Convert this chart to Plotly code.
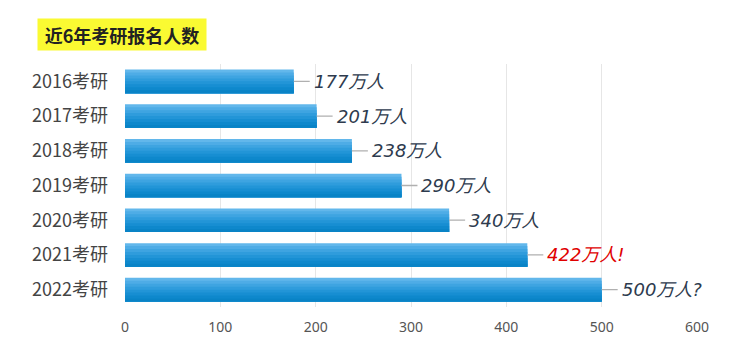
import plotly.graph_objects as go

categories = ["2016考研", "2017考研", "2018考研", "2019考研", "2020考研", "2021考研", "2022考研"]
values = [177, 201, 238, 290, 340, 422, 500]
labels = ["177万人", "201万人", "238万人", "290万人", "340万人", "422万人!", "500万人?"]
label_colors = ["#2e3b4e", "#2e3b4e", "#2e3b4e", "#2e3b4e", "#2e3b4e", "#e00000", "#2e3b4e"]
x_ticks = [0, 100, 200, 300, 400, 500, 600]
title_text = "近6年考研报名人数"

fig = go.Figure()

# gradient bars built from overlapping stripes (top light -> bottom dark)
stripe_colors = ["#62b7eb", "#4eace6", "#3ea4e1", "#2f9cdc", "#2295d7", "#178ed2", "#0e88cc", "#0983c6"]
bar_w = 0.68
n = len(stripe_colors)
sw = bar_w / n
for i, c in enumerate(stripe_colors):
    fig.add_trace(go.Bar(
        y=categories, x=values, orientation="h",
        marker=dict(color=c, line=dict(width=0)),
        width=bar_w - i * sw, offset=-bar_w / 2 + i * sw,
        hoverinfo="skip", showlegend=False,
    ))

for cat, v, lab, col in zip(categories, values, labels, label_colors):
    fig.add_annotation(
        x=v, y=cat, xref="x", yref="y",
        text="<i>" + lab + "</i>",
        showarrow=True, arrowhead=0, arrowwidth=1.3, arrowcolor="#b0b0b0",
        ax=18, ay=0, xanchor="left", yanchor="middle", startstandoff=2,
        font=dict(size=18, color=col, family="DejaVu Sans, Noto Sans CJK SC"),
    )

fig.add_annotation(
    x=-0.1538, y=1.19, xref="paper", yref="paper",
    xanchor="left", yanchor="top", showarrow=False,
    text="<b>" + title_text + "</b>",
    font=dict(size=18, color="#222222", family="Noto Sans CJK SC"),
    bgcolor="#fafa32", borderpad=4, height=23, width=160,
)

fig.update_layout(
    width=740, height=351,
    margin=dict(l=125, r=43, t=64, b=44),
    paper_bgcolor="white", plot_bgcolor="white",
    barmode="overlay",
    xaxis=dict(
        range=[0, 600], tickvals=x_ticks, showgrid=True, gridcolor="#e6e6e6", gridwidth=1,
        zeroline=False, showline=False,
        tickfont=dict(size=14, color="#555555", family="Noto Sans, Noto Sans CJK SC"),
        ticks="", ticklabelstandoff=10,
    ),
    yaxis=dict(
        categoryorder="array", categoryarray=categories, autorange="reversed",
        showgrid=False, zeroline=False, showline=False, ticks="",
        tickfont=dict(size=18, color="#444444", family="Noto Sans CJK SC"),
        ticklabelstandoff=16,
    ),
    font=dict(family="Noto Sans CJK SC"),
)

fig.write_html("out.html")
